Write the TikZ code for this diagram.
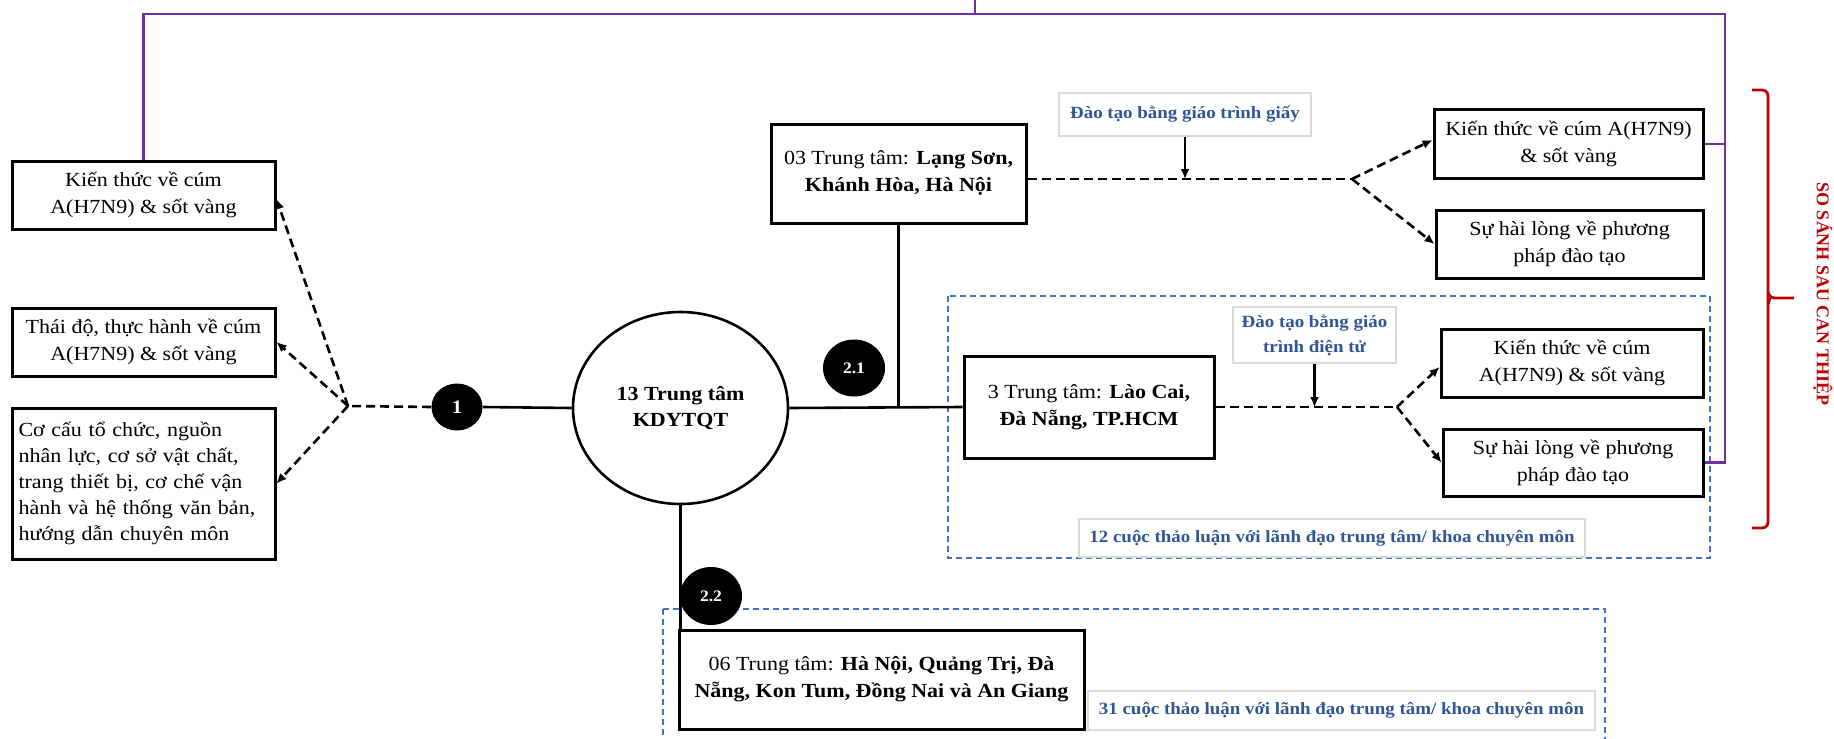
\documentclass[tikz,border=0pt]{standalone}
\usepackage{fontspec}
\setmainfont{Liberation Serif}[FakeStretch=1.1]
\newfontfamily\uprightserif{Liberation Serif}
\usetikzlibrary{arrows.meta,shapes.geometric,calc}
\definecolor{vlpurple}{HTML}{7030A0}
\definecolor{vlblue}{HTML}{4472C4}
\definecolor{vltext}{HTML}{2F5597}
\definecolor{vlred}{HTML}{C00000}
\definecolor{vlgrey}{HTML}{D9D9D9}

\begin{document}
\begin{tikzpicture}[x=0.5pt,y=-0.5pt,
  stdfont/.style={font=\fontsize{10}{13.5}\selectfont},
  box/.style={draw, line width=1.5pt, fill=white, align=center, inner sep=0pt, stdfont},
  hub/.style={draw, ellipse, line width=1.3pt, fill=white, inner sep=0pt, align=center,
    font=\fontsize{10}{13}\selectfont\bfseries},
  badge/.style={ellipse, fill=black, inner sep=0pt, text=white,
    font=\fontsize{8}{9}\selectfont\bfseries},
  tag/.style={draw=vlgrey, line width=1.3pt, fill=white, inner sep=0pt, align=center,
    text=vltext, font=\fontsize{8.6}{12.5}\selectfont\bfseries},
  solidline/.style={line width=1.3pt},
  flow/.style={line width=1.3pt, dash pattern=on 4.5pt off 2.5pt},
  flowarrow/.style={flow, -{Latex[length=5pt,width=4.5pt]}},
  feed/.style={line width=1.1pt, -{Latex[length=5pt,width=4.5pt]}},
  group/.style={draw=vlblue, line width=0.8pt, dash pattern=on 3pt off 2pt},
  link/.style={draw=vlpurple, line width=1.3pt},
]
\useasboundingbox (0,0) rectangle (1834,738);
\clip (0,0) rectangle (1834,738);

% dashed groups (drawn first, behind everything)
\draw[group] (948,296) rectangle (1710,558);
\draw[group] (663,609) rectangle (1605,760);

% left column
\node[box, minimum width=131.5pt, minimum height=34pt] (L1) at (143.5,195)
  {Kiến thức về cúm\\A(H7N9) \& sốt vàng};
\node[box, minimum width=131.5pt, minimum height=34pt] (L2) at (143.5,342)
  {Thái độ, thực hành về cúm\\A(H7N9) \& sốt vàng};
\node[box, minimum width=131.5pt, minimum height=75.5pt, text width=125pt, align=left,
  font=\fontsize{10}{13}\selectfont] (L3) at (143.5,483.5)
  {Cơ cấu tổ chức, nguồn\\nhân lực, cơ sở vật chất,\\trang thiết bị, cơ chế vận\\hành và hệ thống văn bản,\\hướng dẫn chuyên môn};
\coordinate (F1) at (348,406);

% centre
\node[badge, minimum width=25.5pt, minimum height=23.5pt, font=\fontsize{9.5}{10}\selectfont\bfseries] (C1) at (457,407) {1};
\node[hub, minimum width=107.5pt, minimum height=96pt] (E) at (680.5,408) {13 Trung tâm\\KDYTQT};
\node[badge, minimum width=31pt, minimum height=28.5pt] (C21) at (854,368) {2.1};
\node[badge, minimum width=31pt, minimum height=29pt] (C22) at (711,596) {2.2};

% branch boxes
\node[box, minimum width=127.5pt, minimum height=49.5pt] (B03) at (898.5,173.5)
  {03 Trung tâm: \textbf{Lạng Sơn,}\\\textbf{Khánh Hòa, Hà Nội}};
\node[box, minimum width=125pt, minimum height=51pt] (B3) at (1089,407)
  {3 Trung tâm: \textbf{Lào Cai,}\\\textbf{Đà Nẵng, TP.HCM}};
\node[box, minimum width=202.5pt, minimum height=49.5pt] (B06) at (881.5,679.5)
  {06 Trung tâm: \textbf{Hà Nội, Quảng Trị, Đà}\\\textbf{Nẵng, Kon Tum, Đồng Nai và An Giang}};

% outcome boxes
\node[box, minimum width=134.5pt, minimum height=34pt] (R1) at (1568.5,144)
  {Kiến thức về cúm A(H7N9)\\\& sốt vàng};
\node[box, minimum width=133.5pt, minimum height=34pt] (R2) at (1569.5,244)
  {Sự hài lòng về phương\\pháp đào tạo};
\node[box, minimum width=131pt, minimum height=34pt] (R3) at (1572,363)
  {Kiến thức về cúm\\A(H7N9) \& sốt vàng};
\node[box, minimum width=130pt, minimum height=33.5pt] (R4) at (1573,462.5)
  {Sự hài lòng về phương\\pháp đào tạo};

% tags
\node[tag, minimum width=126pt, minimum height=21.5pt] (LabA) at (1185,114.5)
  {Đào tạo bằng giáo trình giấy};
\node[tag, minimum width=81.5pt, minimum height=28pt] (LabB) at (1314.5,335)
  {Đào tạo bằng giáo\\trình điện tử};
\node[tag, minimum width=253pt, minimum height=19pt] (Lab12) at (1332,538)
  {12 cuộc thảo luận với lãnh đạo trung tâm/ khoa chuyên môn};
\node[tag, minimum width=253.5pt, minimum height=19.5pt] (Lab31) at (1341.5,710.5)
  {31 cuộc thảo luận với lãnh đạo trung tâm/ khoa chuyên môn};

\coordinate (F2) at (1352,179);
\coordinate (F3) at (1397,407);

% connectors
\draw[solidline] (C1.east) -- (E.west);
\draw[flow] (C1.west) -- (F1);
\draw[flowarrow] (F1) -- ([yshift=-2pt]L1.east);
\draw[flowarrow] (F1) -- (L2.east);
\draw[flowarrow] (F1) -- (L3.east);
\draw[solidline] (E.east) -- (B3.west);
\draw[solidline] (B03.south) -- (B03.south |- B3.west);
\draw[solidline] (E.south) -- (E.south |- B06.north);

\draw[flow] (B03.east |- F2) -- (F2);
\draw[feed] (LabA.south) -- (LabA.south |- F2);
\draw[flowarrow] (F2) -- ([yshift=2pt]R1.west);
\draw[flowarrow] (F2) -- (R2.west);

\draw[flow] (B3.east) -- (F3);
\draw[feed] (LabB.south) -- (LabB.south |- F3);
\draw[flowarrow] (F3) -- ([yshift=-2pt]R3.west);
\draw[flowarrow] (F3) -- (R4.west);

% comparison links
\coordinate (TopR) at (1725,14);
\coordinate (TopM) at (975,14);
\draw[link] (L1.north) |- (TopR) |- (R4.east);
\draw[link] (R1.east) -- (R1.east -| TopR);
\draw[link] (TopM) -- (TopM |- 0,0);

% bracket and its caption
\draw[vlred, line width=1.4pt, rounded corners=3pt] (1752,90) -- (1768,90) -- (1768,528) -- (1752,528);
\draw[vlred, line width=1.4pt, rounded corners=2pt] (1768,292) -- (1770,298) -- (1794,298);
\draw[vlred, line width=1.4pt, rounded corners=2pt] (1768,304) -- (1770,298);
\node[rotate=-90, text=vlred, inner sep=0pt, font=\uprightserif\fontsize{9}{10}\selectfont\bfseries] (Cap) at (1823,294)
  {SO SÁNH SAU CAN THIỆP};
\end{tikzpicture}
\end{document}
